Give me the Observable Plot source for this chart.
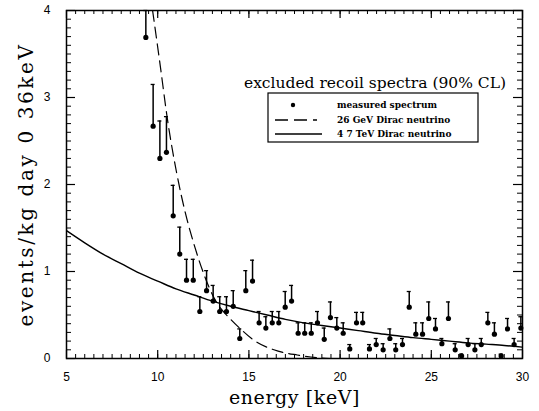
<!DOCTYPE html>
<html><head><meta charset="utf-8">
<script src="https://cdn.jsdelivr.net/npm/d3@7"></script>
<script src="https://cdn.jsdelivr.net/npm/@observablehq/plot@0.6"></script>
<style>body{margin:0;background:#fff}</style>
</head><body><div id="chart"></div>
<script>
// measured spectrum (0.36 keV bins): energy, value, upper limit (90% CL)
const energy = [9.35,9.75,10.12,10.48,10.85,11.21,11.58,11.95,12.31,12.68,13.04,13.40,13.77,14.14,14.50,14.83,15.20,15.56,15.93,16.28,16.64,16.99,17.34,17.70,18.06,18.42,18.76,19.13,19.47,19.82,20.17,20.53,20.90,21.24,21.61,21.98,22.36,22.73,23.05,23.42,23.79,24.15,24.52,24.86,25.23,25.58,25.94,26.31,26.66,27.02,27.39,27.74,28.10,28.46,28.83,29.18,29.54,29.91];
const measured = [3.69,2.67,2.30,2.37,1.64,1.20,0.90,0.90,0.54,0.78,0.66,0.54,0.54,0.60,0.23,0.78,0.89,0.41,0.35,0.41,0.41,0.59,0.66,0.29,0.29,0.29,0.41,0.22,0.47,0.35,0.29,0.11,0.41,0.41,0.11,0.16,0.10,0.23,0.10,0.16,0.59,0.28,0.28,0.46,0.34,0.17,0.46,0.10,0.03,0.16,0.10,0.16,0.41,0.28,0.03,0.34,0.16,0.35];
const upper = [4.00,3.15,2.73,2.78,1.99,1.51,1.14,1.14,0.71,1.01,0.84,0.71,0.71,0.78,0.34,1.01,1.13,0.54,0.48,0.54,0.54,0.77,0.84,0.41,0.41,0.41,0.54,0.35,0.65,0.47,0.41,0.16,0.53,0.53,0.16,0.23,0.17,0.34,0.17,0.23,0.77,0.41,0.41,0.65,0.46,0.23,0.65,0.17,0.05,0.23,0.17,0.23,0.53,0.41,0.05,0.46,0.23,0.48];

// 4.7 TeV Dirac neutrino excluded spectrum (solid)
const tevEnergy = [5,6,7,8,9,10,11,12,13,14,15,16,17,18,19,20,21,22,23,24,25,26,27,28,29,30];
const tevRate = [1.47,1.33,1.20,1.09,0.98,0.89,0.80,0.73,0.66,0.60,0.55,0.50,0.45,0.41,0.38,0.35,0.32,0.29,0.265,0.24,0.22,0.20,0.18,0.165,0.15,0.13];

// 26 GeV Dirac neutrino excluded spectrum (dashed)
const gevEnergy = [9.72,10.15,10.52,11.07,11.52,11.98,12.53,13.08,14.0,14.54,15.27,16.37,17.65,18.74,19.5];
const gevRate = [4.0,3.35,2.77,2.10,1.67,1.32,0.97,0.70,0.45,0.34,0.21,0.10,0.04,0.01,0.0];

const xTickLabels = [5,10,15,20,25,30];
const yTickLabels = [0,1,2,3,4];

const points = energy.map((e,i)=>({e, v: measured[i], hi: upper[i]}));
const tev = tevEnergy.map((e,i)=>({e, v: tevRate[i]}));
const gev = gevEnergy.map((e,i)=>({e, v: gevRate[i]}));

const W = 539, H = 411, mL = 66, mR = 17, mT = 10, mB = 53;
const pW = W - mL - mR, pH = H - mT - mB;
const xMinor = d3.range(5, 30.001, 0.5);
const yMinor = d3.range(0, 4.001, 0.1);

const plot = Plot.plot({
  width: W, height: H,
  marginLeft: mL, marginRight: mR, marginTop: mT, marginBottom: mB,
  style: {fontFamily: "Liberation Sans, sans-serif", fontSize: "12px", color: "#000", background: "#fff"},
  x: {domain: [5, 30], axis: null},
  y: {domain: [0, 4], axis: null},
  marks: [
    Plot.axisX(xTickLabels, {anchor: "bottom", tickSize: 0, tickPadding: 14, tickFormat: "d", fontSize: 12, label: null}),
    Plot.axisY(yTickLabels, {anchor: "left", tickSize: 0, tickPadding: 16, tickFormat: "d", fontSize: 12, label: null}),
    // inward ticks
    Plot.tickX(xMinor, {x: d=>d, insetTop: pH - 4, strokeWidth: 1}),
    Plot.tickX(xTickLabels, {x: d=>d, insetTop: pH - 8, strokeWidth: 1.2}),
    Plot.tickX(xMinor, {x: d=>d, insetBottom: pH - 4, strokeWidth: 1}),
    Plot.tickX(xTickLabels, {x: d=>d, insetBottom: pH - 8, strokeWidth: 1.2}),
    Plot.tickY(yMinor, {y: d=>d, insetRight: pW - 5, strokeWidth: 1}),
    Plot.tickY(yTickLabels, {y: d=>d, insetRight: pW - 9, strokeWidth: 1.2}),
    Plot.tickY(yMinor, {y: d=>d, insetLeft: pW - 5, strokeWidth: 1}),
    Plot.tickY(yTickLabels, {y: d=>d, insetLeft: pW - 9, strokeWidth: 1.2}),
    // curves
    Plot.line(tev, {x: "e", y: "v", stroke: "#000", strokeWidth: 1.4, curve: "monotone-x", clip: true}),
    Plot.line(gev, {x: "e", y: "v", stroke: "#000", strokeWidth: 1.2, strokeDasharray: "11,6", curve: "monotone-x", clip: true}),
    // data
    Plot.ruleX(points, {x: "e", y1: "v", y2: "hi", stroke: "#000", strokeWidth: 1.5}),
    Plot.ruleY(points, {y: "hi", x1: "e", x2: "e", insetLeft: -2, insetRight: -2, stroke: "#000", strokeWidth: 1.3}),
    Plot.dot(points, {x: "e", y: "v", r: 2.6, fill: "#000", stroke: null}),
    Plot.frame({stroke: "#000", strokeWidth: 1.5}),
    // axis titles
    Plot.text(["energy [keV]"], {frameAnchor: "bottom", dy: 45, textAnchor: "middle", fontFamily: "DejaVu Serif", fontSize: 19, fill: "#000"}),
    Plot.text(["events/kg day 0 36keV"], {frameAnchor: "left", dx: -40, textAnchor: "middle", rotate: -90, fontFamily: "DejaVu Serif", fontSize: 20, fill: "#000"})
  ]
});

// widen axis titles like the reference lettering
d3.select(plot).selectAll("text").filter(function(){ return this.textContent === "events/kg day 0 36keV"; })
  .attr("letter-spacing", "2.6px");
d3.select(plot).selectAll("text").filter(function(){ return this.textContent === "energy [keV]"; })
  .attr("letter-spacing", "0.6px");

// legend drawn into the SVG
const svg = d3.select(plot);
const g = svg.append("g").attr("font-family", "DejaVu Serif").attr("fill", "#000").attr("text-anchor", "start");
g.append("text").attr("x", 375).attr("y", 84).attr("text-anchor", "middle").attr("dominant-baseline", "middle")
  .attr("font-size", 15.5).text("excluded recoil spectra (90% CL)");
g.append("rect").attr("x", 268).attr("y", 93).attr("width", 210).attr("height", 49)
  .attr("fill", "#fff").attr("stroke", "#000").attr("stroke-width", 1.2);
const items = [
  {label: "measured spectrum", y: 105, kind: "dot"},
  {label: "26 GeV Dirac neutrino", y: 120, kind: "dash"},
  {label: "4 7 TeV Dirac neutrino", y: 134, kind: "solid"}
];
for (const it of items) {
  if (it.kind === "dot") g.append("circle").attr("cx", 293).attr("cy", it.y).attr("r", 2.2).attr("fill", "#000");
  else g.append("line").attr("x1", 275).attr("x2", it.kind === "dash" ? 317 : 322).attr("y1", it.y).attr("y2", it.y)
    .attr("stroke", "#000").attr("stroke-width", 1.3).attr("stroke-dasharray", it.kind === "dash" ? "13,6" : null);
  g.append("text").attr("x", 337).attr("y", it.y).attr("text-anchor", "start").attr("dominant-baseline", "middle")
    .attr("font-size", 9).attr("font-weight", "bold").text(it.label);
}

document.getElementById("chart").append(plot);
</script>
</body></html>
